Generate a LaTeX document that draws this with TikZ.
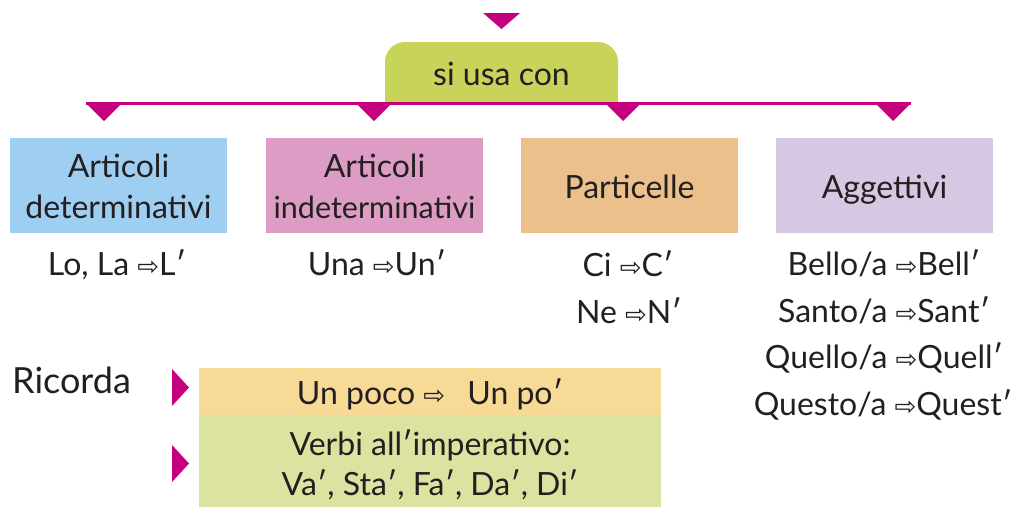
\documentclass[tikz,border=0pt]{standalone}
\usepackage{fontspec}
\setmainfont{Lato}
\newfontfamily\symfont{DejaVu Sans}
\definecolor{mag}{HTML}{C4007C}
\definecolor{txt}{HTML}{231F20}
\definecolor{hdr}{HTML}{C8D35A}
\definecolor{cblue}{HTML}{9ECFF3}
\definecolor{cpink}{HTML}{DD9CC3}
\definecolor{corange}{HTML}{ECC08B}
\definecolor{cpurple}{HTML}{D6C8E3}
\definecolor{cyellow}{HTML}{F7DA96}
\definecolor{cgreen}{HTML}{DCE2A0}
\newcommand{\arr}{{\symfont\fontsize{26}{26}\selectfont ⇨}}
\newcommand{\pr}{′}
\begin{document}
\begin{tikzpicture}[x=1pt,y=-1pt,
  every node/.style={text=txt,font=\fontsize{32}{41}\selectfont,inner sep=0pt},
  catbox/.style={minimum width=217pt,minimum height=95pt,draw=none},
  lbl/.style={anchor=base},
  tri/.style={fill=mag}]
\useasboundingbox (0,0) rectangle (1013,507);
% top triangle
\fill[tri] (483,13) -- (520,13) -- (501.5,29) -- cycle;
% header box
\fill[hdr, rounded corners=20pt] (385,42) rectangle (618,103);
\fill[hdr] (385,80) rectangle (618,103);
\node[lbl] (hdr) at (501.5,85) {si usa con};
% bus line
\coordinate (bl) at (86,103.5);
\coordinate (br) at (911,103.5);
\draw[mag, line width=3pt] (bl) -- (br);
\foreach \cx in {104,374,623,893}{
  \fill[tri] (\cx-18,103) -- (\cx+18,103) -- (\cx,121) -- cycle;
}
% category boxes
\node[catbox, fill=cblue] (b1) at (118.5,185.5) {};
\node[catbox, fill=cpink] (b2) at (374.5,185.5) {};
\node[catbox, fill=corange] (b3) at (629.5,185.5) {};
\node[catbox, fill=cpurple] (b4) at (884.5,185.5) {};
\node[lbl] (t1a) at (118.5,177) {Articoli};
\node[lbl] (t1b) at (118.5,218) {determinativi};
\node[lbl] (t2a) at (374.5,177) {Articoli};
\node[lbl, font=\fontsize{30.5}{41}\selectfont] (t2b) at (374.5,218) {indeterminativi};
\node[lbl] (t3) at (629.5,198) {Particelle};
\node[lbl] (t4) at (884.5,198) {Aggettivi};
% examples
\node[lbl] (e1) at (117,275) {Lo, La \arr L\pr};
\node[lbl] (e2) at (377,275) {Una \arr Un\pr};
\node[lbl] (e3a) at (628,276) {Ci \arr C\pr};
\node[lbl] (e3b) at (629,323) {Ne \arr N\pr};
\node[lbl] (e4a) at (884,275) {Bello/a \arr Bell\pr};
\node[lbl] (e4b) at (884,322) {Santo/a \arr Sant\pr};
\node[lbl] (e4c) at (884,368) {Quello/a \arr Quell\pr};
\node[lbl] (e4d) at (883,415) {Questo/a \arr Quest\pr};
% Ricorda
\node[lbl, anchor=base west, font=\fontsize{36}{41}\selectfont] (ric) at (12,393) {Ricorda};
\node[fill=cyellow, minimum width=462pt, minimum height=47pt] (r1) at (430,391.5) {};
\node[fill=cgreen, minimum width=462pt, minimum height=92pt] (r2) at (430,461) {};
\fill[tri] (172,369) -- (189,387.5) -- (172,406) -- cycle;
\fill[tri] (172,445) -- (189,463.5) -- (172,482) -- cycle;
\node[lbl] (r1t) at (430,404) {Un poco \arr\hspace{14pt} Un po\pr};
\node[lbl] (r2a) at (430,455) {Verbi all\pr imperativo:};
\node[lbl] (r2b) at (430,495) {Va\pr, Sta\pr, Fa\pr, Da\pr, Di\pr};
\end{tikzpicture}
\end{document}
